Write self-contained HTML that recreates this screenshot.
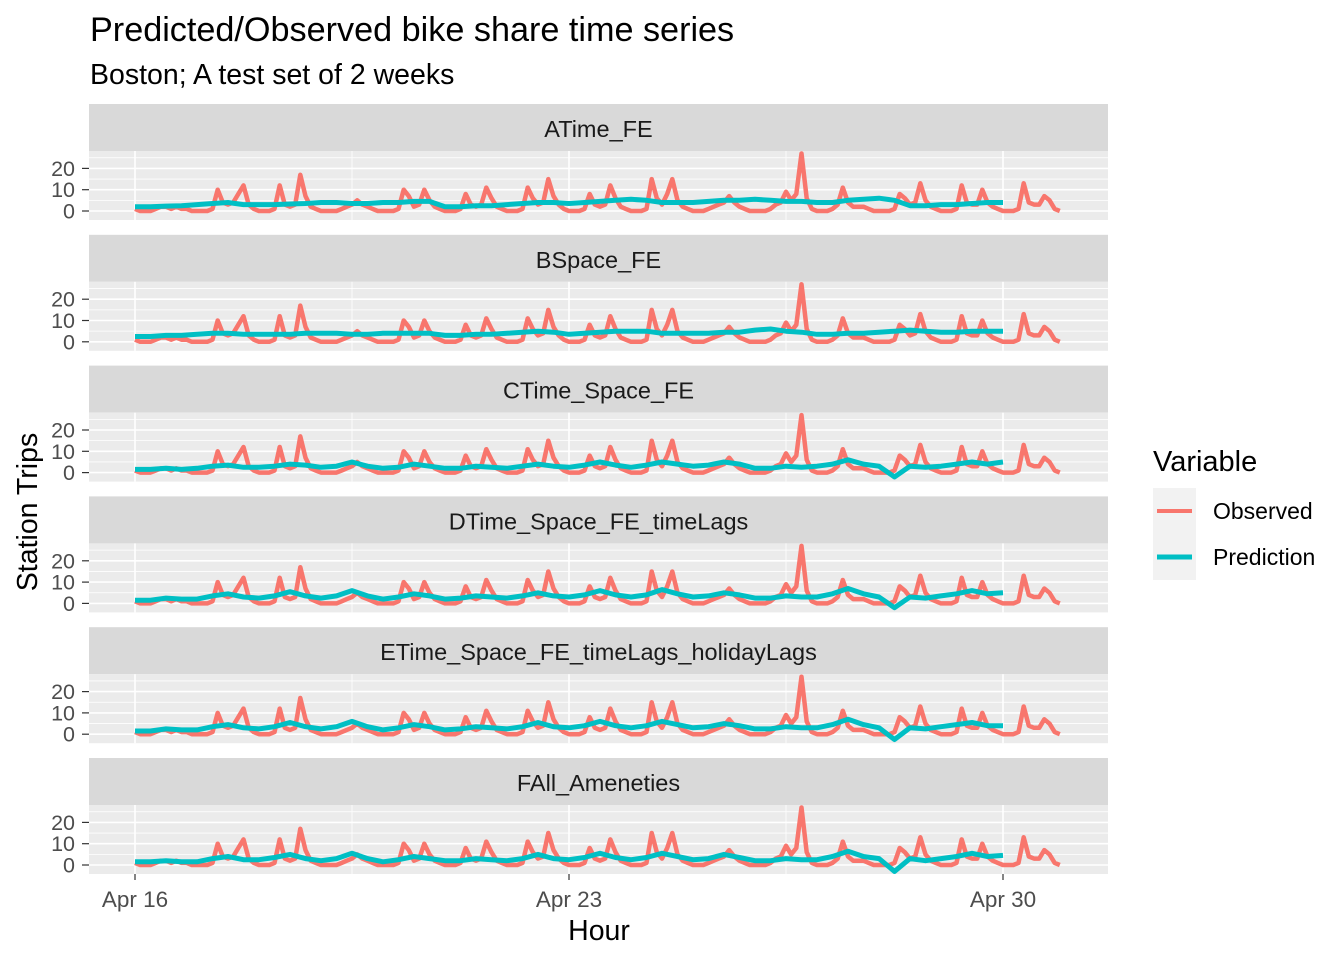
<!DOCTYPE html>
<html><head><meta charset="utf-8"><style>
body{margin:0;background:#fff;}
svg{display:block;font-family:"Liberation Sans",Arial,sans-serif;}
</style></head><body>
<svg id="c" width="1344" height="960" xmlns="http://www.w3.org/2000/svg">
<text x="90" y="41" font-size="34.2" fill="#000">Predicted/Observed bike share time series</text>
<text x="90" y="84" font-size="28.5" fill="#000">Boston; A test set of 2 weeks</text>
<text transform="translate(37,512) rotate(-90)" text-anchor="middle" font-size="28.5">Station Trips</text>
<text x="599" y="940" text-anchor="middle" font-size="28.5">Hour</text>
<g>
<text x="1153" y="471" font-size="29" fill="#000">Variable</text>
<rect x="1153" y="488" width="43" height="46" fill="#f2f2f2"/>
<line x1="1157" x2="1192" y1="511" y2="511" stroke="#F8766D" stroke-width="4"/>
<rect x="1153" y="534" width="43" height="46" fill="#f2f2f2"/>
<line x1="1157" x2="1192" y1="557" y2="557" stroke="#00BFC4" stroke-width="5"/>
<text x="1213" y="519" font-size="23">Observed</text>
<text x="1213" y="565" font-size="23">Prediction</text>
</g>
<g id="panels"></g>
</svg>
<script>
// Observed trips, 2-hour resolution starting Apr 16 00:00
const observed = [
1,0,0,0,1,2,2,1,2,1,1,0,
0,0,0,1,10,4,3,4,8,12,3,1,
0,0,0,1,12,3,2,3,17,7,2,1,
0,0,0,0,1,2,3,5,3,2,1,0,
0,0,0,1,10,7,2,3,10,5,2,1,
0,0,0,1,8,3,2,3,11,6,2,1,
0,0,0,1,11,6,3,4,15,7,3,1,
0,0,0,1,8,3,2,3,12,6,2,1,
0,0,0,1,15,6,3,8,15,5,2,1,
0,0,0,1,2,3,4,7,4,2,1,0,
0,0,0,1,3,4,9,5,8,27,6,1,
0,0,0,1,3,11,4,2,2,2,1,0,
0,0,0,1,8,6,3,4,13,5,2,1,
0,0,0,1,12,4,3,3,10,4,2,1,
0,0,0,1,13,4,3,3,7,5,1,0];
// Predictions, 6-hour resolution Apr 16 00:00 .. Apr 30
const predA = [2,2,2.3,2.5,3,3.5,4,3,3,3,3.3,3.5,4,4,3.5,3.5,4,4,4.5,4.5,2,2,2.5,2.5,3,3.5,4,4,3.5,4,4.5,5,5.5,5,4,4,4,4.5,5,5,5.5,5,4.5,4.5,4,4,5,5.5,6,5,2.5,2.5,3,3,3.5,4,4];
const predB = [2.5,2.5,3,3,3.5,4,4,3.5,3.5,3.5,3.5,4,4,4,3.5,3.5,4,4,4,4,3,3,3.5,3.5,4,4.5,5,4.5,3.5,4,4.5,5,5,5,4,4,4,4,4.5,4.5,5.5,6,5,4.5,3.5,3.5,4,4,4.5,5,5.5,5,4.5,4.5,5,5,5];
const predC = [1.5,1.5,2,1.5,2,3,3.5,2.5,2.5,3,4,3.5,2.5,3,5,3,2,2.5,4,3,2,2,3,2.5,2,3,4,3,2.5,3.5,5,3.5,2.5,3.5,5,4,3,3.5,5,4,2,2,3,2.5,3,4,6,4,3,-2,3,2.5,3,4,5,4,5];
const predD = [1.5,1.5,2.5,2,2,3.5,4.5,3,2.5,3.5,5.5,3.5,2.5,3.5,6,3.5,2,3,4.5,3.5,2,2.5,3.5,3,2.5,3.5,5,3.5,3,4,6,4,3,4,6.5,4.5,3,3.5,5,4,2.5,2.5,3.5,3,3,4.5,7,4.5,3,-2,3,2.5,3.5,4.5,6,4.5,5];
const predE = [1.5,1.5,2.5,2,2,3.5,4.5,3,2.5,3.5,5.5,3.5,2.5,3.5,6,3.5,2,3,4.5,3.5,2,2.5,3.5,3,2.5,3.5,5.5,3.5,3,4,6,4,3,4,6,4.5,3,3.5,5,4,2.5,2.5,3.5,3,3,4.5,7,4.5,3,-2.5,3,2.5,3.5,4.5,5.5,4,4];
const predF = [1.5,1.5,2,1.5,1.5,3,4,2.5,2.5,3.5,5,3,2,3,5.5,3,1.5,2.5,4,3,2,2,3,2.5,2,3,5,3,2.5,3.5,5.5,3.5,2.5,3.5,5.5,4,2.5,3,5,3.5,2,2,3,2.5,2.5,4,6.5,4,3,-3,3,2,3,4,5.5,4,4.5];
const facetNames = ["ATime_FE","BSpace_FE","CTime_Space_FE","DTime_Space_FE_timeLags","ETime_Space_FE_timeLags_holidayLags","FAll_Ameneties"];
const preds = [predA,predB,predC,predD,predE,predF];
const yTicks = [0,10,20];
const xTickLabels = ["Apr 16","Apr 23","Apr 30"];
const xTickDays = [0,7,14];

const NS="http://www.w3.org/2000/svg";
const g=document.getElementById('panels');
const PX0=89, PX1=1108;
const xDay = d => 135 + d*62.0;
const xHour = h => xDay(h/24);
function el(tag, attrs, parent){const e=document.createElementNS(NS,tag);for(const k in attrs)e.setAttribute(k,attrs[k]);(parent||g).appendChild(e);return e;}

facetNames.forEach((name,i)=>{
  const top = 104 + i*130.8;
  const pTop = top+47, pBot = pTop+69;
  const yv = v => pTop + 60 - v*2.13;
  const strip = el('rect',{x:PX0,y:top,width:PX1-PX0,height:47,fill:'#d9d9d9'});
  
  
  const st = el('text',{x:(PX0+PX1)/2,y:top+33,'text-anchor':'middle','font-size':'23.5',fill:'#1a1a1a'});
  st.textContent=name;
  
  
  const bg = el('rect',{x:PX0,y:pTop,width:PX1-PX0,height:69,fill:'#ebebeb'});
  
  
  [5,15,25].forEach(v=>{const l=el('line',{x1:PX0,x2:PX1,y1:yv(v),y2:yv(v),stroke:'#fff','stroke-width':0.8});
    });
  [3.5,10.5].forEach(d=>{const l=el('line',{x1:xDay(d),x2:xDay(d),y1:pTop,y2:pBot,stroke:'#fff','stroke-width':0.8});
    });
  yTicks.forEach(v=>{
    const l=el('line',{x1:PX0,x2:PX1,y1:yv(v),y2:yv(v),stroke:'#fff','stroke-width':1.6});
    
    const tk=el('line',{x1:82,x2:89,y1:yv(v),y2:yv(v),stroke:'#333','stroke-width':1.2});
    
    const t=el('text',{x:75,y:yv(v)+7.5,'text-anchor':'end','font-size':'21.5',fill:'#4d4d4d'});
    t.textContent=v;
  });
  xTickDays.forEach(d=>{const l=el('line',{x1:xDay(d),x2:xDay(d),y1:pTop,y2:pBot,stroke:'#fff','stroke-width':1.6});
    });
  let p1 = observed.map((v,k)=>xHour(k*2).toFixed(1)+','+yv(v).toFixed(1)).join(' ');
  const ol=el('polyline',{points:p1,fill:'none',stroke:'#F8766D','stroke-width':4.5,'stroke-linejoin':'round'});
  
  let p2 = preds[i].map((v,k)=>xHour(k*6).toFixed(1)+','+yv(v).toFixed(1)).join(' ');
  const pl=el('polyline',{points:p2,fill:'none',stroke:'#00BFC4','stroke-width':5,'stroke-linejoin':'round'});
  
  if(i===5){
    xTickDays.forEach((d,j)=>{
      const tk=el('line',{x1:xDay(d),x2:xDay(d),y1:pBot,y2:pBot+6,stroke:'#333','stroke-width':1.2});
      
      const t=el('text',{x:xDay(d),y:pBot+33,'text-anchor':'middle','font-size':'22.5',fill:'#4d4d4d'});
      t.textContent=xTickLabels[j];
    });
  }
});
</script>
</body></html>
